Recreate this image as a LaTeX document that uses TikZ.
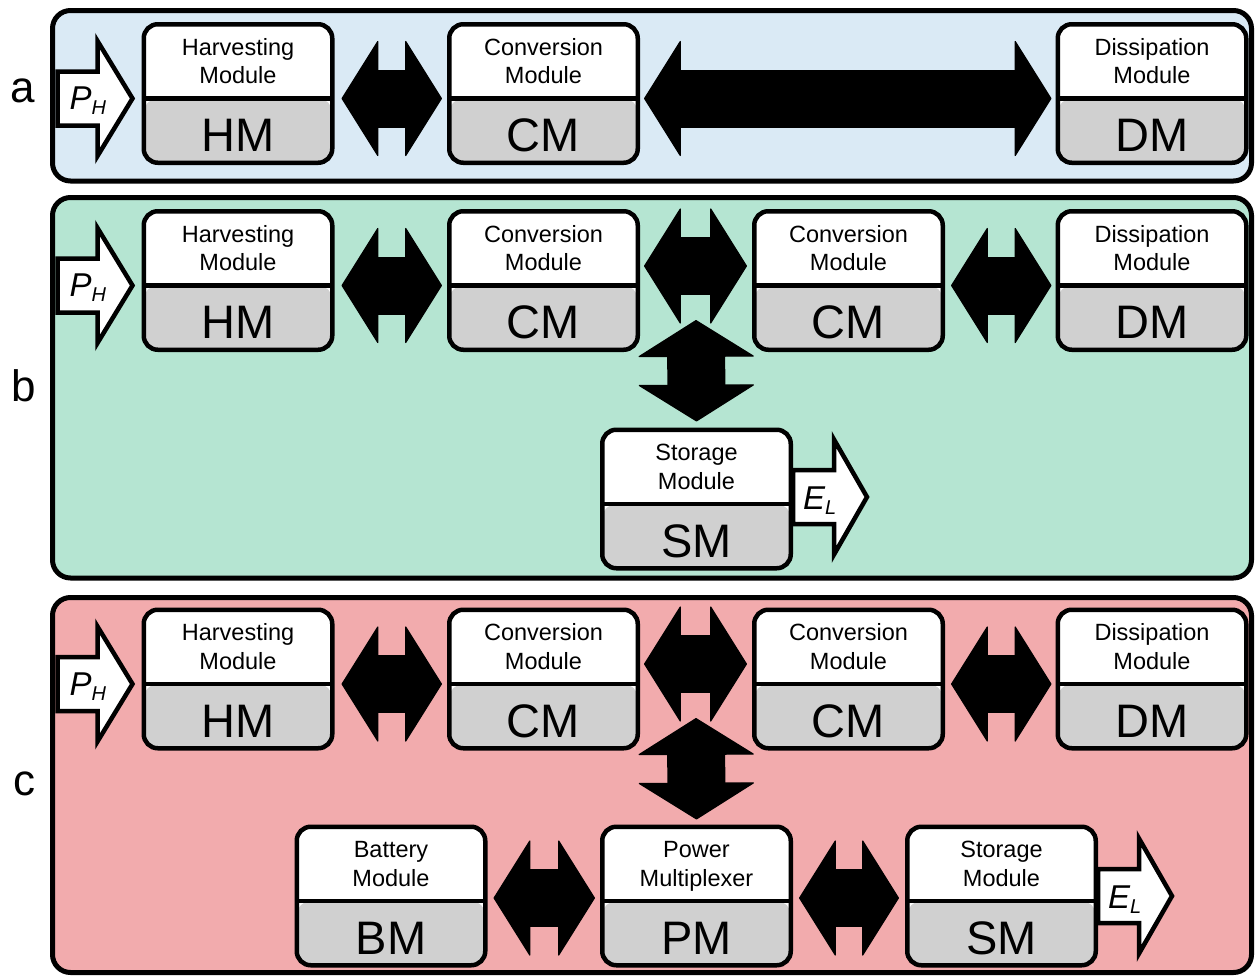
\documentclass[tikz,border=0pt]{standalone}
\usepackage{fontspec}
\setmainfont{Liberation Sans}
\usetikzlibrary{arrows.meta,calc}
\definecolor{bga}{HTML}{DAEAF5}
\definecolor{bgb}{HTML}{B5E5D2}
\definecolor{bgc}{HTML}{F2ABAD}
\definecolor{modgray}{HTML}{D0D0D0}
\tikzset{
  panel/.style={draw=black, line width=5pt, rounded corners=18pt},
  module/.style={draw=black, line width=4.5pt, rounded corners=14pt, fill=white,
    minimum width=188.5pt, minimum height=138.5pt, inner sep=0pt,
    path picture={
      \fill[modgray] ([yshift=-5pt]path picture bounding box.west) rectangle (path picture bounding box.south east);
      \draw[line width=4.5pt] ([yshift=-5pt]path picture bounding box.west) -- ([yshift=-5pt]path picture bounding box.east);
    }},
  toptext/.style={anchor=base, align=center, font=\fontsize{23.5}{28.5}\selectfont, inner sep=0pt},
  abbrtext/.style={anchor=base, font=\fontsize{47}{50}\selectfont, inner sep=0pt},
  panellabel/.style={anchor=base, font=\fontsize{44}{48}\selectfont, inner sep=0pt},
  bigtip/.tip={Triangle[length=37pt 0 0, width=118pt 0 0, line width=1.2pt 0 0, round]},
  bigarrow/.style={draw=black, line width=58pt, {bigtip}-{bigtip}},
  ioarrow/.style={draw=black, fill=white, line width=4.5pt, line join=miter},
  iolabel/.style={anchor=base west, inner sep=0pt},
}
\newcommand\modbox[5]{%
  \node[module] (#1) at (#2,#3) {};
  \node[toptext] (#1-t) at ($(#1.north)+(0,61.5)$) {#4};
  \node[abbrtext] (#1-a) at ($(#1.south)+(0,-13.5)$) {#5};
}
% input arrow: shaft starts at #1, label #2
\newcommand\inarrow[3]{%
  \draw[ioarrow, shift={($#1$)}] (0,-27) -- (40,-27) -- (40,-57.5) -- (75,0) -- (40,57.5) -- (40,27) -- (0,27) -- cycle;
  \node[iolabel] (#3) at ($#1+(12,11)$) {\fontsize{33}{33}\selectfont\itshape #2};
}
\newcommand\outarrow[3]{%
  \draw[ioarrow, shift={($#1$)}] (0,-27) -- (41,-27) -- (41,-57.5) -- (74,0) -- (41,57.5) -- (41,27) -- (0,27) -- cycle;
  \node[iolabel] (#3) at ($#1+(10,12)$) {\fontsize{33}{33}\selectfont\itshape #2};
}
\newcommand\Psub{P\raisebox{-5pt}{\fontsize{20}{20}\selectfont H}}
\newcommand\Esub{E\raisebox{-5pt}{\fontsize{20}{20}\selectfont L}}
\begin{document}
\begin{tikzpicture}[x=1pt,y=-1pt]
\useasboundingbox (0,0) rectangle (1256,977);

% panels
\draw[panel, fill=bga] (52.5,10.5) rectangle (1251.5,181);
\draw[panel, fill=bgb] (52.5,197.5) rectangle (1251.5,578);
\draw[panel, fill=bgc] (52.5,597.5) rectangle (1251.5,972.5);

\node[panellabel] (la) at (23,102) {a};
\node[panellabel] (lb) at (24,401) {b};
\node[panellabel] (lc) at (24,795) {c};

% ---------- row a
\modbox{hma}{238}{93.5}{Harvesting\\Module}{HM}
\modbox{cma}{543.5}{93.5}{Conversion\\Module}{CM}
\modbox{dma}{1152}{93.5}{Dissipation\\Module}{DM}
\draw[bigarrow] ($(hma.east)+(7,5)$) -- ($(cma.west)+(-5,5)$);
\draw[bigarrow] ($(cma.east)+(4,5)$) -- ($(dma.west)+(-4,5)$);
\inarrow{(hma.west)+(-84,5)}{\Psub}{pha}

% ---------- row b
\modbox{hmb}{238}{280.5}{Harvesting\\Module}{HM}
\modbox{cmb}{543.5}{280.5}{Conversion\\Module}{CM}
\modbox{cmbb}{848.5}{280.5}{Conversion\\Module}{CM}
\modbox{dmb}{1152}{280.5}{Dissipation\\Module}{DM}
\modbox{smb}{696.5}{499}{Storage\\Module}{SM}
\draw[bigarrow] ($(hmb.east)+(7,5)$) -- ($(cmb.west)+(-5,5)$);
\draw[bigarrow] ($(cmbb.east)+(6,5)$) -- ($(dmb.west)+(-4,5)$);
\coordinate (jb) at ($(cmb.east)!0.5!(cmbb.west)+(0,-14.5)$);
\draw[bigarrow] ($(jb)+(0,54)$) -- ($(smb.north)+(0,-6)$);
\draw[bigarrow] ($(cmb.east)+(4,-14.5)$) -- ($(cmbb.west)+(-5,-14.5)$);
\inarrow{(hmb.west)+(-84,5)}{\Psub}{phb}
\outarrow{(smb.east)+(0,-2)}{\Esub}{elb}

% ---------- row c
\modbox{hmc}{238}{679}{Harvesting\\Module}{HM}
\modbox{cmc}{543.5}{679}{Conversion\\Module}{CM}
\modbox{cmcc}{848.5}{679}{Conversion\\Module}{CM}
\modbox{dmc}{1152}{679}{Dissipation\\Module}{DM}
\modbox{bmc}{391}{896}{Battery\\Module}{BM}
\modbox{pmc}{696.5}{896}{Power\\Multiplexer}{PM}
\modbox{smc}{1001.5}{896}{Storage\\Module}{SM}
\draw[bigarrow] ($(hmc.east)+(7,5)$) -- ($(cmc.west)+(-5,5)$);
\draw[bigarrow] ($(cmcc.east)+(6,5)$) -- ($(dmc.west)+(-4,5)$);
\coordinate (jc) at ($(cmc.east)!0.5!(cmcc.west)+(0,-15)$);
\draw[bigarrow] ($(jc)+(0,54)$) -- ($(pmc.north)+(0,-5)$);
\draw[bigarrow] ($(cmc.east)+(4,-15)$) -- ($(cmcc.west)+(-5,-15)$);
\draw[bigarrow] ($(bmc.east)+(6,2)$) -- ($(pmc.west)+(-5,2)$);
\draw[bigarrow] ($(pmc.east)+(6,2)$) -- ($(smc.west)+(-6,2)$);
\inarrow{(hmc.west)+(-84,5)}{\Psub}{phc}
\outarrow{(smc.east)+(0,0)}{\Esub}{elc}
\end{tikzpicture}
\end{document}
